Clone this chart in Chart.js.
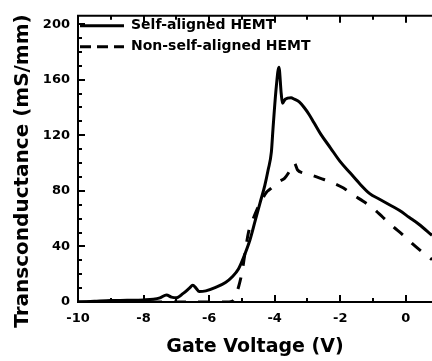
<!DOCTYPE html>
<html>
<head>
<meta charset="utf-8">
<script src="https://cdn.jsdelivr.net/npm/chart.js@4"></script>
<style>
  html, body { margin: 0; padding: 0; background: #fff; overflow: hidden; }
  #wrap { width: 432px; height: 361px; }
</style>
</head>
<body>
<div id="wrap"><canvas id="chart"></canvas></div>
<script>
// Gate voltage (V) / transconductance (mS/mm)
const SA_VG = [-10, -9.5, -9, -8.5, -8, -7.7, -7.5, -7.3, -7.15, -7.0, -6.8, -6.6, -6.5, -6.4, -6.3, -6.1, -5.8, -5.5,
  -5.3, -5.1, -4.95, -4.75, -4.6, -4.45, -4.3, -4.2, -4.1, -4.05, -3.95, -3.87, -3.8, -3.76, -3.68, -3.5, -3.4, -3.25,
  -3.1, -2.95, -2.8, -2.6, -2.3, -2.0, -1.7, -1.4, -1.1, -0.8, -0.5, -0.2, 0.1, 0.4, 0.8];
const SA_GM = [0, 0.5, 1, 1.2, 1.5, 2, 3, 5, 3.5, 3, 6, 10, 12, 10, 7.5, 8, 10.5, 14,
  18, 24, 32, 45, 58, 71, 84, 95, 108, 125, 155, 169, 150, 143, 146, 147, 146, 144,
  140, 135, 129, 121, 111, 101, 93, 85, 78, 74, 70, 66, 61, 56, 48];

const NSA_VG = [-10, -8, -6, -5.5, -5.3, -5.2, -5.1, -5.0, -4.9, -4.8, -4.7, -4.55, -4.4, -4.25, -4.15, -4.0, -3.85,
  -3.7, -3.55, -3.4, -3.3, -3.15, -2.9, -2.6, -2.3, -1.9, -1.6, -1.3, -1.0, -0.7, -0.4, -0.1, 0.2, 0.5, 0.8];
const NSA_GM = [0, 0, 0, 0, 0.5, 4, 11, 21, 36, 50, 57, 66, 73, 79, 81, 84, 87,
  89, 94, 100, 95, 93, 91.5, 89, 86.5, 82, 77, 72.5, 67.5, 61, 54.5, 48.5, 42, 36, 30.5];

const X_TICKS = [-10, -8, -6, -4, -2, 0];
const Y_TICKS = [0, 40, 80, 120, 160, 200];

const FONT = "'DejaVu Sans', sans-serif";
const Y_TITLE = 'Transconductance (mS/mm)';

// inward tick marks on bottom, top and left, top frame line, rotated y title
const frameTicks = {
  id: 'frameTicks',
  afterLayout(chart) {
    // the chartArea legend sits at the canvas top; nudge it into the frame
    const lg = chart.legend;
    const dy = chart.chartArea.top - 4;
    lg.top += dy; lg.bottom += dy;
    lg.left -= 5; lg.right -= 5;
  },
  afterDraw(chart) {
    const { ctx, chartArea: a, scales: { x, y } } = chart;
    ctx.save();
    ctx.strokeStyle = '#000';
    ctx.lineWidth = 2;
    ctx.beginPath();
    ctx.moveTo(a.left - 1, a.top);
    ctx.lineTo(a.right, a.top);
    ctx.stroke();
    ctx.beginPath();
    for (let v = x.min; v <= x.max; v += 1) {
      const px = Math.round(x.getPixelForValue(v));
      const len = X_TICKS.includes(v) ? 7 : 4;
      ctx.moveTo(px, a.bottom); ctx.lineTo(px, a.bottom - len);
      ctx.moveTo(px, a.top); ctx.lineTo(px, a.top + len);
    }
    for (let v = 0; v <= 200; v += 10) {
      const py = Math.round(y.getPixelForValue(v));
      const len = Y_TICKS.includes(v) ? 7 : 4;
      ctx.moveTo(a.left, py); ctx.lineTo(a.left + len, py);
    }
    ctx.stroke();

    ctx.translate(23, 171);
    ctx.rotate(-Math.PI / 2);
    ctx.fillStyle = '#000';
    ctx.font = "bold 20px " + FONT;
    ctx.textAlign = 'center';
    ctx.textBaseline = 'middle';
    ctx.fillText(Y_TITLE, 0, 0);
    ctx.restore();
  }
};

new Chart(document.getElementById('chart'), {
  type: 'line',
  data: {
    datasets: [
      {
        label: 'Self-aligned HEMT',
        data: SA_VG.map((v, i) => ({ x: v, y: SA_GM[i] })),
        borderColor: '#000',
        backgroundColor: '#000',
        borderWidth: 3,
        pointRadius: 0,
        cubicInterpolationMode: 'monotone'
      },
      {
        label: 'Non-self-aligned HEMT',
        data: NSA_VG.map((v, i) => ({ x: v, y: NSA_GM[i] })),
        borderColor: '#000',
        backgroundColor: '#000',
        borderWidth: 3,
        borderDash: [12, 12],
        pointRadius: 0,
        cubicInterpolationMode: 'monotone'
      }
    ]
  },
  options: {
    responsive: true,
    maintainAspectRatio: false,
    animation: false,
    layout: { padding: { top: 8, right: 0, left: 0, bottom: 0 } },
    scales: {
      x: {
        type: 'linear',
        min: -10,
        max: 0.8,
        afterBuildTicks: (axis) => { axis.ticks = X_TICKS.map((v) => ({ value: v })); },
        afterFit: (axis) => { axis.height = 59; },
        grid: { display: false, drawTicks: false },
        border: { display: true, color: '#000', width: 2 },
        ticks: { color: '#000', padding: 9, font: { family: FONT, size: 13, weight: 'bold' } },
        title: {
          display: true,
          text: 'Gate Voltage (V)',
          color: '#000',
          padding: { top: 0, bottom: 3 },
          font: { family: FONT, size: 19, weight: 'bold' }
        }
      },
      y: {
        min: 0,
        max: 206,
        afterBuildTicks: (axis) => { axis.ticks = Y_TICKS.map((v) => ({ value: v })); },
        afterFit: (axis) => { axis.width = 78; },
        grid: { display: false, drawTicks: false },
        border: { display: true, color: '#000', width: 2 },
        ticks: { color: '#000', padding: 8, font: { family: FONT, size: 13, weight: 'bold' } }
      }
    },
    plugins: {
      legend: {
        position: 'chartArea',
        align: 'start',
        labels: {
          color: '#000',
          usePointStyle: true,
          pointStyle: 'line',
          pointStyleWidth: 44,
          boxWidth: 44,
          boxHeight: 16,
          padding: 7,
          font: { family: FONT, size: 14, weight: 'bold' },
          generateLabels: (chart) => Chart.defaults.plugins.legend.labels.generateLabels(chart).map((item) => {
            const ds = chart.data.datasets[item.datasetIndex];
            return { ...item, lineWidth: 3, strokeStyle: '#000', lineDash: ds.borderDash ? [11, 6] : [] };
          })
        }
      },
      tooltip: { enabled: false }
    }
  },
  plugins: [frameTicks]
});
</script>
</body>
</html>
